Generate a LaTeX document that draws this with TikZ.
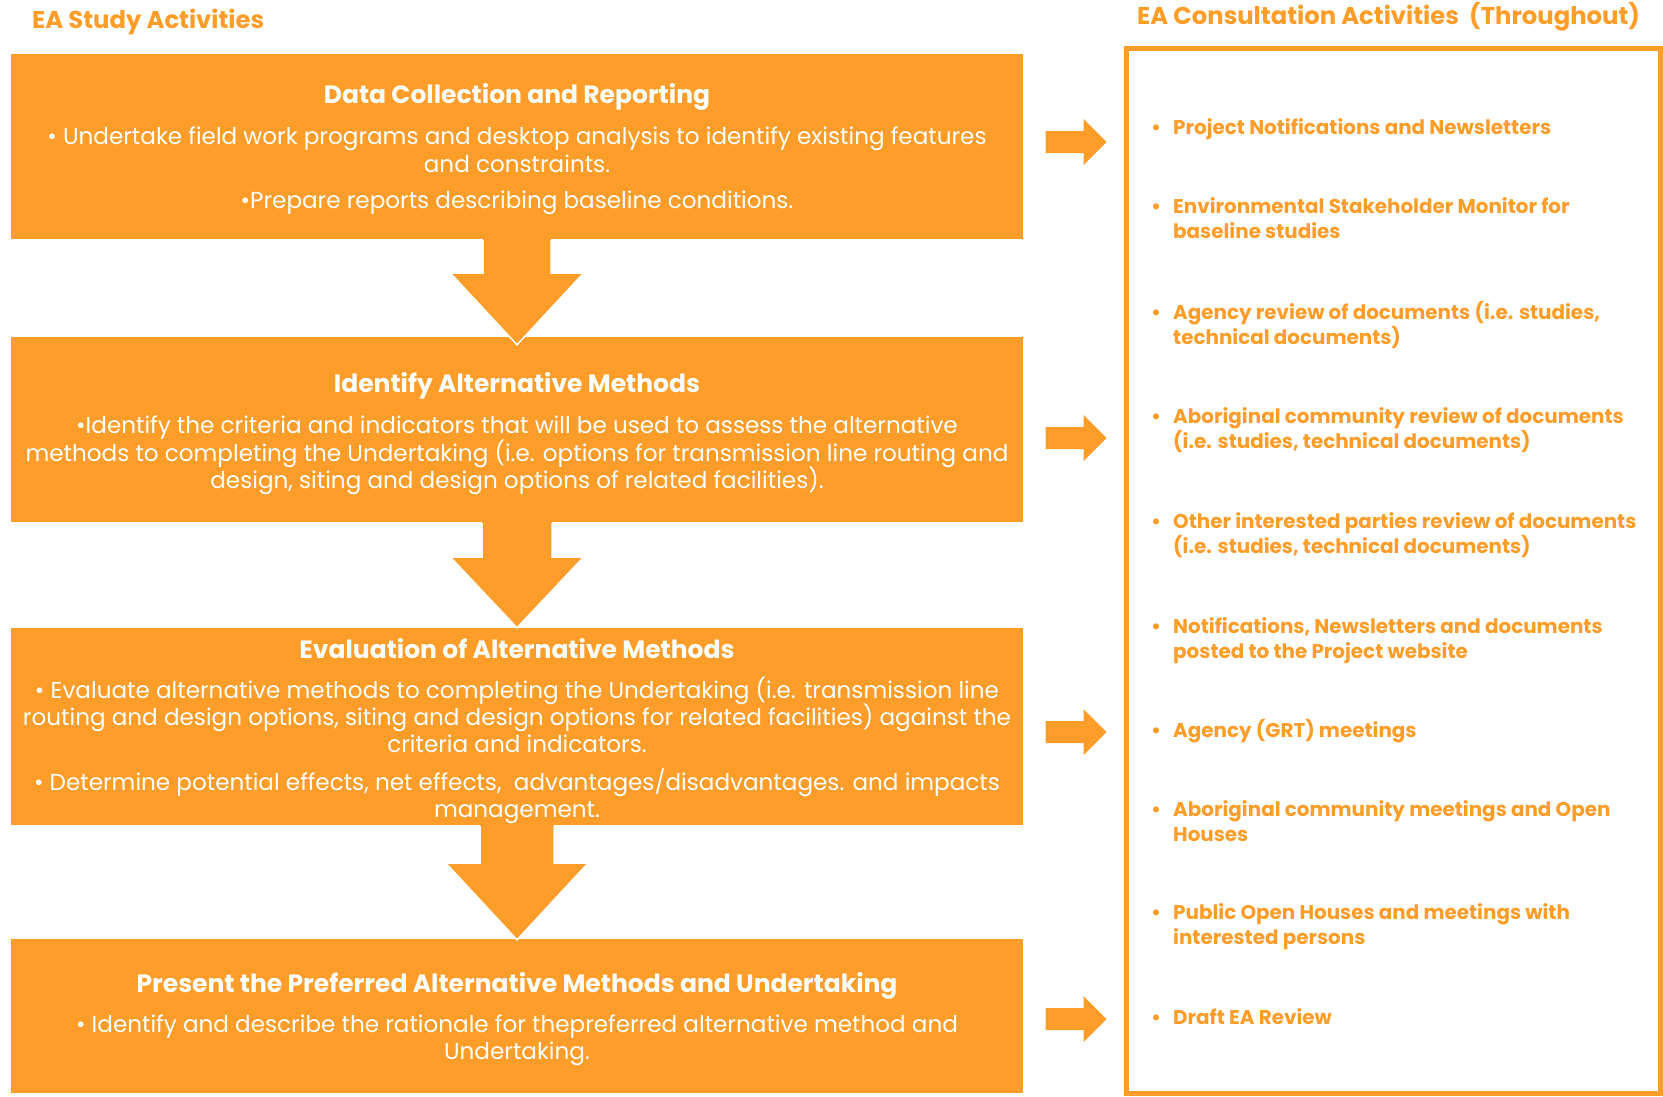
\documentclass[tikz,border=0pt]{standalone}
\usepackage{fontspec}
\setmainfont{Poppins}
\usetikzlibrary{calc}
\definecolor{eaorange}{RGB}{254,157,41}
\newcommand{\eaitem}[4]{%
  \node[itembul] (#1b) at (1156,#2) {•};
  \node[itemtxt] (#1a) at (1173,#2) {#3};
  \node[itemtxt] (#1c) at (1173,#2+25.5) {#4};
}
\newcommand{\eaitemone}[3]{%
  \node[itembul] (#1b) at (1156,#2) {•};
  \node[itemtxt] (#1a) at (1173,#2) {#3};
}
\begin{document}
\begin{tikzpicture}[x=1pt,y=-1pt,
  stepbox/.style={fill=eaorange, draw=none, inner sep=0pt, minimum width=1012pt},
  headtxt/.style={anchor=base, text=white, inner sep=0pt, yshift=-1.5pt, font=\fontsize{25}{28}\selectfont\bfseries},
  bodytxt/.style={anchor=base, text=white, inner sep=0pt, yshift=-1pt, font=\fontsize{23.1}{27.5}\selectfont},
  itemtxt/.style={anchor=base west, text=eaorange, inner sep=0pt, yshift=-1pt, font=\fontsize{19.9}{25.5}\selectfont\bfseries},
  itembul/.style={anchor=base, text=eaorange, inner sep=0pt, yshift=-1pt, font=\fontsize{19.9}{25.5}\selectfont\bfseries},
  titletxt/.style={anchor=base west, text=eaorange, inner sep=0pt, font=\fontsize{24.3}{28}\selectfont\bfseries},
  downarrow/.style={fill=eaorange},
  downedge/.style={draw=white, line width=1.5pt, line join=miter},
  rightarrow/.style={fill=eaorange},
  consbox/.style={draw=eaorange, line width=5pt, fill=none, inner sep=0pt}
]
\useasboundingbox (0,0) rectangle (1663,1096);

% titles
\node[titletxt] (t1) at (32,28) {EA Study Activities};
\node[titletxt] (t2) at (1137,24) {EA Consultation Activities\ \ (Throughout)};

% step boxes
\node[stepbox, minimum height=185pt] (b1) at (517,146.5) {};
\node[stepbox, minimum height=185pt] (b2) at (517,429.5) {};
\node[stepbox, minimum height=197pt] (b3) at (517,726.5) {};
\node[stepbox, minimum height=154pt] (b4) at (517,1016) {};

% consultation box
\node[consbox, minimum width=534.5pt, minimum height=1045.5pt] (cons) at (1393.25,570.75) {};

% down arrows (connectors)
\fill[downarrow] ($(b1.south)+(-34,0)$) -- ($(b1.south)+(-34,34)$) -- ($(b1.south)+(-66.5,34)$)
   -- ($(b2.north)+(0,8)$) -- ($(b1.south)+(66.5,34)$) -- ($(b1.south)+(34,34)$) -- ($(b1.south)+(34,0)$) -- cycle;
\draw[downedge] ($(b1.south)+(-34,1)$) -- ($(b1.south)+(-34,34)$) -- ($(b1.south)+(-66.5,34)$)
   -- ($(b2.north)+(0,8)$) -- ($(b1.south)+(66.5,34)$) -- ($(b1.south)+(34,34)$) -- ($(b1.south)+(34,1)$);

\fill[downarrow] ($(b2.south)+(-35,0)$) -- ($(b2.south)+(-35,35)$) -- ($(b2.south)+(-66.5,35)$)
   -- ($(b3.north)+(0,0)$) -- ($(b2.south)+(66.5,35)$) -- ($(b2.south)+(35,35)$) -- ($(b2.south)+(35,0)$) -- cycle;
\draw[downedge] ($(b2.south)+(-35,1)$) -- ($(b2.south)+(-35,35)$) -- ($(b2.south)+(-66.5,35)$)
   -- ($(b3.north)+(0,0)$) -- ($(b2.south)+(66.5,35)$) -- ($(b2.south)+(35,35)$) -- ($(b2.south)+(35,1)$);

\fill[downarrow] ($(b3.south)+(-37,0)$) -- ($(b3.south)+(-37,38)$) -- ($(b3.south)+(-71,38)$)
   -- ($(b4.north)+(0,1)$) -- ($(b3.south)+(71,38)$) -- ($(b3.south)+(37,38)$) -- ($(b3.south)+(37,0)$) -- cycle;
\draw[downedge] ($(b3.south)+(-37,1)$) -- ($(b3.south)+(-37,38)$) -- ($(b3.south)+(-71,38)$)
   -- ($(b4.north)+(0,1)$) -- ($(b3.south)+(71,38)$) -- ($(b3.south)+(37,38)$) -- ($(b3.south)+(37,1)$);

% right arrows (connectors to consultation box)
\foreach \ay/\nm in {142/r1, 438/r2, 732/r3, 1019/r4}{
  \coordinate (\nm) at (cons.west |- 0,\ay);
  \fill[rightarrow] ($(\nm)+(-78,-11)$) -- ($(\nm)+(-40,-11)$) -- ($(\nm)+(-40,-23)$) -- ($(\nm)+(-17,0)$)
     -- ($(\nm)+(-40,23)$) -- ($(\nm)+(-40,11)$) -- ($(\nm)+(-78,11)$) -- cycle;
}

% box 1 text
\node[headtxt] (h1) at (517,102) {Data Collection and Reporting};
\node[bodytxt] (l1a) at (517,143) {• Undertake field work programs and desktop analysis to identify existing features};
\node[bodytxt] (l1b) at (517,171) {and constraints.};
\node[bodytxt] (l1c) at (517,207) {•Prepare reports describing baseline conditions.};

% box 2 text
\node[headtxt] (h2) at (517,391) {Identify Alternative Methods};
\node[bodytxt] (l2a) at (517,432) {•Identify the criteria and indicators that will be used to assess the alternative};
\node[bodytxt] (l2b) at (517,460) {methods to completing the Undertaking (i.e. options for transmission line routing and};
\node[bodytxt] (l2c) at (517,487) {design, siting and design options of related facilities).};

% box 3 text
\node[headtxt] (h3) at (517,657) {Evaluation of Alternative Methods};
\node[bodytxt] (l3a) at (517,697) {• Evaluate alternative methods to completing the Undertaking (i.e. transmission line};
\node[bodytxt] (l3b) at (517,724) {routing and design options, siting and design options for related facilities) against the};
\node[bodytxt] (l3c) at (517,751) {criteria and indicators.};
\node[bodytxt] (l3d) at (517,789) {• Determine potential effects, net effects,\ \ advantages/disadvantages. and impacts};
\node[bodytxt] (l3e) at (517,816) {management.};

% box 4 text
\node[headtxt] (h4) at (517,991) {Present the Preferred Alternative Methods and Undertaking};
\node[bodytxt] (l4a) at (517,1031) {• Identify and describe the rationale for thepreferred alternative method and};
\node[bodytxt] (l4b) at (517,1058) {Undertaking.};

% consultation items
\eaitemone{c1}{133}{Project Notifications and Newsletters}
\eaitem{c2}{212}{Environmental Stakeholder Monitor for}{baseline studies}
\eaitem{c3}{318}{Agency review of documents (i.e. studies,}{technical documents)}
\eaitem{c4}{422}{Aboriginal community review of documents}{(i.e. studies, technical documents)}
\eaitem{c5}{527}{Other interested parties review of documents}{(i.e. studies, technical documents)}
\eaitem{c6}{632}{Notifications, Newsletters and documents}{posted to the Project website}
\eaitemone{c7}{736}{Agency (GRT) meetings}
\eaitem{c8}{815}{Aboriginal community meetings and Open}{Houses}
\eaitem{c9}{918}{Public Open Houses and meetings with}{interested persons}
\eaitemone{c10}{1023}{Draft EA Review}
\end{tikzpicture}
\end{document}
